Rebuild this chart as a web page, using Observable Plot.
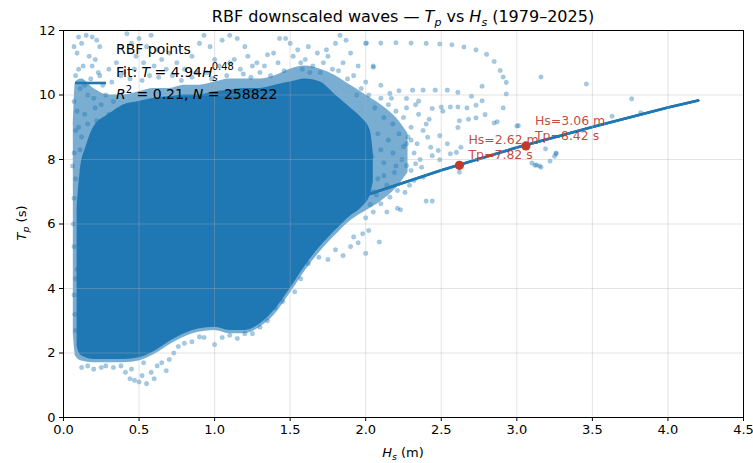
<!DOCTYPE html>
<html><head><meta charset="utf-8">
<script src="https://cdn.jsdelivr.net/npm/d3@7"></script>
<script src="https://cdn.jsdelivr.net/npm/@observablehq/plot@0.6"></script>
<style>body{margin:0;background:#fff}svg{display:block}</style>
</head><body><div id="chart"></div>
<script>
const xTicks = [0, 0.5, 1.0, 1.5, 2.0, 2.5, 3.0, 3.5, 4.0, 4.5];
const yTicks = [0, 2, 4, 6, 8, 10, 12];

// dense core of the point cloud (Hs, lower Tp, upper Tp)
const denseHs = [0.09,0.11,0.15,0.2,0.3,0.4,0.5,0.6,0.7,0.8,0.9,1.0,1.1,1.2,1.3,1.4,1.5,1.6,1.7,1.8,1.9,1.97,2.03,2.05];
const denseLo = [2.2,1.95,1.85,1.8,1.8,1.8,1.85,2.05,2.35,2.6,2.75,2.8,2.7,2.7,2.9,3.35,4.0,4.7,5.3,5.8,6.25,6.5,6.9,7.3];
const denseHi = [6.5,7.6,8.4,9.0,9.4,9.7,9.8,9.9,9.95,10.0,10.0,10.1,10.15,10.2,10.2,10.3,10.4,10.5,10.4,10.0,9.6,9.3,8.9,8.2];

// semi-dense fringe
const haloHs = [0.065,0.08,0.12,0.2,0.3,0.4,0.5,0.6,0.7,0.8,0.9,1.0,1.1,1.2,1.3,1.4,1.5,1.6,1.7,1.8,1.9,2.0,2.1,2.2,2.28];
const haloLo = [2.6,1.9,1.75,1.7,1.7,1.7,1.75,1.95,2.25,2.5,2.65,2.7,2.6,2.6,2.8,3.2,3.85,4.55,5.15,5.65,6.1,6.4,6.7,7.1,7.6];
const haloHi = [9.0,10.4,10.5,10.2,10.0,10.0,10.1,10.2,10.2,10.3,10.3,10.4,10.5,10.5,10.5,10.6,10.8,10.9,10.8,10.6,10.3,10.0,9.7,9.3,8.8];

// sparse outlying points [Hs, Tp]
const sparsePoints = [
 [0.09,11.3],[0.12,11.6],[0.15,11.85],[0.19,11.8],[0.22,11.7],[0.24,11.5],[0.17,11.2],[0.21,11.1],[0.13,10.9],[0.08,10.6],
 [0.18,10.5],[0.23,10.7],[0.26,10.3],[0.11,10.2],[0.16,10.0],[0.2,9.9],[0.25,9.7],[0.09,9.5],[0.14,9.4],[0.22,9.2],
 [0.27,9.0],[0.08,8.9],[0.12,8.7],[0.18,8.6],[0.3,9.4],[0.33,9.8],[0.07,8.2],[0.06,7.8],[0.07,11.5],[0.1,11.8],
 [0.42,11.9],[0.45,11.6],[0.5,11.75],[0.55,11.5],[0.58,11.85],[0.62,11.4],[0.48,11.2],[0.53,11.0],[0.6,10.9],[0.65,11.1],
 [0.4,10.7],[0.44,10.5],[0.57,10.6],[0.7,11.3],[0.75,11.0],[0.8,10.8],[0.85,11.2],[0.9,11.6],[0.93,11.85],[0.97,11.5],
 [1.0,11.1],[1.05,11.7],[1.1,11.85],[1.15,11.75],[1.2,11.5],[1.22,11.2],[1.1,11.0],[1.17,10.8],[1.25,10.9],[1.3,10.7],
 [1.35,11.25],[1.39,11.3],[1.43,11.75],[1.47,11.75],[1.5,11.6],[1.55,11.4],[1.6,11.1],[1.65,10.9],[1.68,11.3],[1.58,10.8],
 [1.75,11.2],[1.8,11.6],[1.83,11.85],[1.87,11.7],[1.9,11.3],[1.85,11.0],[1.78,10.8],[1.95,10.9],[2.0,11.6],[2.05,10.9],
 [1.92,10.6],[2.0,10.4],[0.95,10.7],[0.85,10.55],[0.35,11.0],[0.3,10.8],[0.68,10.8],[1.28,11.0],[1.62,11.5],[1.72,11.0],
 [0.32,10.4],[0.38,10.6],[0.47,10.8],[0.52,10.45],[0.63,10.55],[0.72,10.6],[0.78,10.45],[0.88,10.7],[0.98,10.5],[1.03,10.9],
 [1.08,10.6],[1.13,11.1],[1.19,10.65],[1.24,10.55],[1.33,10.9],[1.37,10.6],[1.42,11.0],[1.46,10.75],[1.52,11.2],[1.57,11.0],
 [1.63,10.7],[1.7,10.7],[1.74,11.4],[1.82,10.75],[1.88,10.5],[1.97,10.2],[2.02,10.0],[1.94,10.0],
 [0.07,9.8],[0.1,9.0],[0.08,7.4],[0.07,6.8],[0.065,6.0],[0.07,5.3],[0.075,3.2],[0.08,2.7],[0.1,10.8],[0.14,10.3],
 [0.19,10.9],[0.24,10.6],[0.28,10.0],[0.16,9.1],[0.21,9.6],[0.11,8.3],
 [2.005,11.61],[2.10,11.61],[2.20,11.62],[2.30,11.61],[2.40,11.6],[2.49,11.58],[2.57,11.56],[2.65,11.49],[2.73,11.40],[2.80,11.26],
 [2.85,11.04],[2.89,10.76],[2.91,10.56],[2.93,10.39],[2.93,10.03],[2.91,9.60],[3.16,10.56],[2.05,10.86],
 [2.22,10.13],[2.31,10.15],[2.38,10.15],[2.46,10.15],[2.54,10.15],[2.61,10.08],[2.70,9.96],[2.77,9.82],[2.77,10.27],
 [2.50,9.63],[2.56,9.63],[2.61,9.63],[2.67,9.6],[2.73,9.68],[2.79,9.39],[2.73,9.29],[2.62,9.2],[2.61,8.99],[2.68,9.25],
 [2.85,9.13],[2.87,9.17],[3.00,9.04],[2.51,9.5],[2.44,9.58],[2.42,9.25],[2.35,9.81],[2.27,9.89],
 [3.46,10.34],[3.76,9.88],[3.82,9.45],[3.63,9.34],[3.01,9.05],[3.19,8.33],[3.26,8.2],[3.25,8.10],[3.22,7.95],[3.10,7.89],
 [3.13,7.83],[3.16,7.76],[3.12,7.82],[2.62,7.61],[2.40,6.71],[2.44,6.71],[1.95,5.42],[2.09,5.44],[2.00,5.09],[3.26,8.18],[3.15,7.8],
 [2.48,8.28],[2.56,8.18],[2.60,8.22],[2.49,7.99],[2.44,8.12],[2.33,7.87],[2.37,7.76],[2.30,7.66],[2.27,7.81],[2.32,7.35],
 [2.38,7.45],[2.43,8.38],[2.34,8.49],[2.27,8.49],[2.41,8.69],[2.49,8.74],[2.54,8.49],[2.63,8.38],[2.21,7.04],[2.26,6.98],
 [2.16,6.83],[2.29,7.2],[2.10,6.63],[2.23,6.44],[2.21,6.49],[2.14,6.37],[2.05,6.37],[2.00,6.19],
 [2.1,9.9],[2.15,9.7],[2.2,9.5],[2.12,9.3],[2.18,9.1],[2.25,9.3],[2.3,9.0],[2.08,8.8],[2.15,8.6],[2.22,8.8],
 [2.28,8.7],[2.1,8.3],[2.18,8.2],[2.24,8.0],[2.12,7.9],[2.19,7.6],[2.08,7.4],[2.14,7.2],[2.05,7.0],[2.35,9.4],
 [2.4,9.1],[2.38,8.9],[2.32,8.2],[2.36,8.0],[2.06,9.6],[2.1,10.3],[2.16,10.05],[2.04,8.1],
 [2.03,6.6],[2.07,6.9],[2.12,7.5],[2.2,7.8],[2.25,8.4],[2.3,8.6],[2.27,9.6],[2.33,9.7],[2.17,9.9],[2.02,5.8],
 [1.98,5.7],[1.92,5.6],[1.9,5.3],[1.8,5.2],[1.75,4.9],[1.57,4.3],[1.53,3.9],
 [0.12,1.55],[0.16,1.6],[0.2,1.5],[0.28,1.6],[0.33,1.55],[0.41,1.4],[0.44,1.2],[0.47,1.15],[0.5,1.1],[0.52,1.3],
 [0.55,1.05],[0.58,1.4],[0.6,1.2],[0.62,1.6],[0.65,1.7],[0.68,1.45],[0.7,1.8],[0.76,2.2],[0.8,2.3],[0.85,2.35],
 [0.93,2.48],[1.0,2.26],[1.05,2.48],[0.07,3.8],[0.08,4.3],[0.09,4.6],[1.85,5.02],[1.69,4.97],[1.62,4.77],[1.48,4.04],
 [1.4,3.4],[1.3,2.8],[1.2,2.6],[1.1,2.55],
 [0.25,1.55],[0.38,1.6],[0.45,1.5],[0.53,1.7],[0.73,2.0],[0.9,2.5],[1.15,2.45],[1.25,2.6],[1.35,3.0],[1.45,3.6]
];

// fitted power law T = 4.94 Hs^0.48, sampled values
const fitHs = [0.2,0.3,0.5,0.75,1.0,1.25,1.5,2.0,2.5,3.0,3.5,4.0,4.2];
const fitTp = [2.28,2.77,3.54,4.30,4.94,5.50,6.00,6.89,7.67,8.37,9.01,9.61,9.83];

// highlighted points
const markHs = [2.62, 3.06];
const markTp = [7.82, 8.42];
const markLabels = ["Hs=2.62 m\nTp=7.82 s", "Hs=3.06 m\nTp=8.42 s"];

const dense = denseHs.map((h,i)=>({hs:h, lo:denseLo[i], hi:denseHi[i]}));
const halo = haloHs.map((h,i)=>({hs:h, lo:haloLo[i], hi:haloHi[i]}));
const sparse = sparsePoints.map(([hs,tp])=>({hs,tp}));
const fit = fitHs.map((h,i)=>({hs:h, tp:fitTp[i]}));
const marked = markHs.map((h,i)=>({hs:h, tp:markTp[i], label:markLabels[i]}));

const blue = "#1f77b4", red = "#c0392b";
const fmt = d => d.toFixed(1);

const plot = Plot.plot({
  width: 753, height: 463,
  marginTop: 30, marginBottom: 46, marginLeft: 63, marginRight: 10,
  style: {fontFamily: "DejaVu Sans", fontSize: "13px", background: "white", color: "black"},
  x: {domain: [0, 4.5], label: null},
  y: {domain: [0, 12], label: null},
  marks: [
    Plot.line(fit, {x: "hs", y: "tp", stroke: blue, strokeWidth: 2.6}),
    Plot.areaY(halo, {x: "hs", y1: "lo", y2: "hi", fill: blue, fillOpacity: 0.6, curve: "monotone-x"}),
    Plot.areaY(dense, {x: "hs", y1: "lo", y2: "hi", fill: blue, curve: "monotone-x"}),
    Plot.dot(sparse, {x: "hs", y: "tp", r: 2.3, fill: blue, fillOpacity: 0.4, stroke: blue, strokeOpacity: 0.2, strokeWidth: 0.6}),
    Plot.line(fit.filter(d => d.hs >= 2), {x: "hs", y: "tp", stroke: blue, strokeWidth: 2.6}),
    Plot.gridX(xTicks, {stroke: "#b0b0b0", strokeOpacity: 0.35}),
    Plot.gridY(yTicks, {stroke: "#b0b0b0", strokeOpacity: 0.35}),
    Plot.dot(marked, {x: "hs", y: "tp", r: 4.6, fill: red}),
    Plot.text(marked, {x: "hs", y: "tp", text: "label", dx: 9, dy: -6, textAnchor: "start", lineAnchor: "bottom", lineHeight: 1.2, fill: red, fillOpacity: 0.92, fontSize: 12.5}),
    Plot.axisX(xTicks, {tickFormat: fmt, tickSize: 4, tickPadding: 3, fontSize: 13, label: null}),
    Plot.axisY(yTicks, {tickSize: 4, tickPadding: 4, fontSize: 13, label: null}),
    Plot.frame({stroke: "black", strokeWidth: 1})
  ]
});
document.getElementById("chart").appendChild(plot);

const svg = d3.select(plot);
const g = svg.append("g").attr("font-family", "DejaVu Sans").attr("fill", "black").attr("text-anchor", "start");
// title
g.append("text").attr("x", 403).attr("y", 22).attr("text-anchor", "middle").attr("font-size", 16)
  .html('RBF downscaled waves — <tspan font-style="italic">T</tspan><tspan font-size="11" font-style="italic" dy="4">p</tspan><tspan dy="-4"> vs </tspan><tspan font-style="italic">H</tspan><tspan font-size="11" font-style="italic" dy="4">s</tspan><tspan dy="-4"> (1979–2025)</tspan>');
// axis labels
g.append("text").attr("x", 403).attr("y", 457).attr("text-anchor", "middle").attr("font-size", 13)
  .html('<tspan font-style="italic">H</tspan><tspan font-size="9.5" font-style="italic" dy="3">s</tspan><tspan dy="-3"> (m)</tspan>');
g.append("text").attr("transform", "translate(26,223) rotate(-90)").attr("text-anchor", "middle").attr("font-size", 13)
  .html('<tspan font-style="italic">T</tspan><tspan font-size="9.5" font-style="italic" dy="3">p</tspan><tspan dy="-3"> (s)</tspan>');
// legend
g.append("line").attr("x1", 75).attr("x2", 106).attr("y1", 83).attr("y2", 83).attr("stroke", blue).attr("stroke-width", 2.6);
g.append("text").attr("x", 116).attr("y", 54).attr("font-size", 14).text("RBF points");
g.append("text").attr("x", 116).attr("y", 77).attr("font-size", 14)
  .html('Fit: <tspan font-style="italic">T</tspan> = 4.94<tspan font-style="italic">H</tspan><tspan font-style="italic" font-size="10" dy="4">s</tspan><tspan font-size="10" dx="-6" dy="-11">0.48</tspan>');
g.append("text").attr("x", 116).attr("y", 99).attr("font-size", 14)
  .html('<tspan font-style="italic">R</tspan><tspan font-size="10" dy="-6">2</tspan><tspan dy="6"> = 0.21, </tspan><tspan font-style="italic">N</tspan> = 258822');
</script></body></html>
